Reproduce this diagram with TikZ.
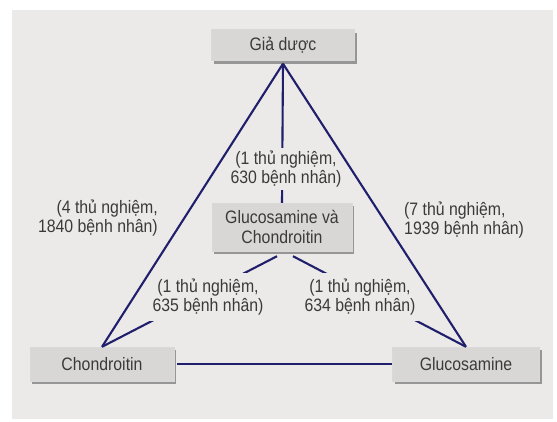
\documentclass[tikz,border=0pt]{standalone}
\usepackage{fontspec}
\setmainfont[FakeStretch=0.88]{Liberation Sans}
\usetikzlibrary{shadows,positioning}
\definecolor{panelgray}{HTML}{ECE9E9}
\definecolor{boxgray}{HTML}{D9D7D6}
\definecolor{linenavy}{HTML}{1F1F6B}
\definecolor{txtgray}{HTML}{3A3A3A}
\tikzset{
  box/.style={draw=gray!30, fill=boxgray, rectangle, minimum height=31pt, minimum width=143pt, align=center, font=\fontsize{18}{20}\selectfont, text=txtgray, drop shadow={shadow xshift=2pt, shadow yshift=-3pt, fill=black!55, opacity=0.7}},
  lbl/.style={fill=panelgray, align=center, inner sep=3pt, font=\fontsize{18}{19.5}\selectfont, text=txtgray},
  ln/.style={draw=linenavy, line width=2.1pt},
}
\begin{document}
\begin{tikzpicture}[x=1pt, y=-1pt]

\fill[white] (0,0) rectangle (557,421);
\useasboundingbox (0,0) rectangle (557,421);
\fill[panelgray] (12,10) rectangle (553,419);

\node[box] (placebo) at (283,45) {Giả dược};
\node[box, minimum height=48pt, minimum width=140pt] (combo) at (282,227) {Glucosamine và\\Chondroitin};
\node[box, minimum height=34pt, minimum width=144pt] (chon) at (102,364) {Chondroitin};
\node[box, minimum height=34pt, minimum width=147pt] (gluc) at (466,364) {Glucosamine};

\coordinate (apex) at ([yshift=-3pt]placebo.south);
\coordinate (cleft) at ([xshift=-5pt, yshift=-5pt]combo.south);
\coordinate (cright) at ([xshift=11pt, yshift=-5pt]combo.south);

% inner links (cut by the labels)
\draw[ln] (apex) -- (combo.north);
\draw[ln] (cleft) -- (chon.north);
\draw[ln] (cright) -- (gluc.north);

\node[lbl] (l630) at (286,169) {(1 thủ nghiệm,\\630 bệnh nhân)};
\node[lbl, inner xsep=4pt, inner ysep=6pt] (l635) at (208,297) {(1 thủ nghiệm,\\635 bệnh nhân)};
\node[lbl, inner xsep=4pt, inner ysep=6pt] (l634) at (360,297) {(1 thủ nghiệm,\\634 bệnh nhân)};
\node[lbl, align=right, anchor=east] (l1840) at (161,218) {(4 thủ nghiệm,\\1840 bệnh nhân)};
\node[lbl, align=left, anchor=west] (l1939) at (401,220) {(7 thủ nghiệm,\\1939 bệnh nhân)};

% outer triangle
\draw[ln] (apex) -- (chon.north);
\draw[ln] (apex) -- (gluc.north);
\draw[ln] ([xshift=3pt]chon.east) -- (gluc.west);

\end{tikzpicture}
\end{document}
